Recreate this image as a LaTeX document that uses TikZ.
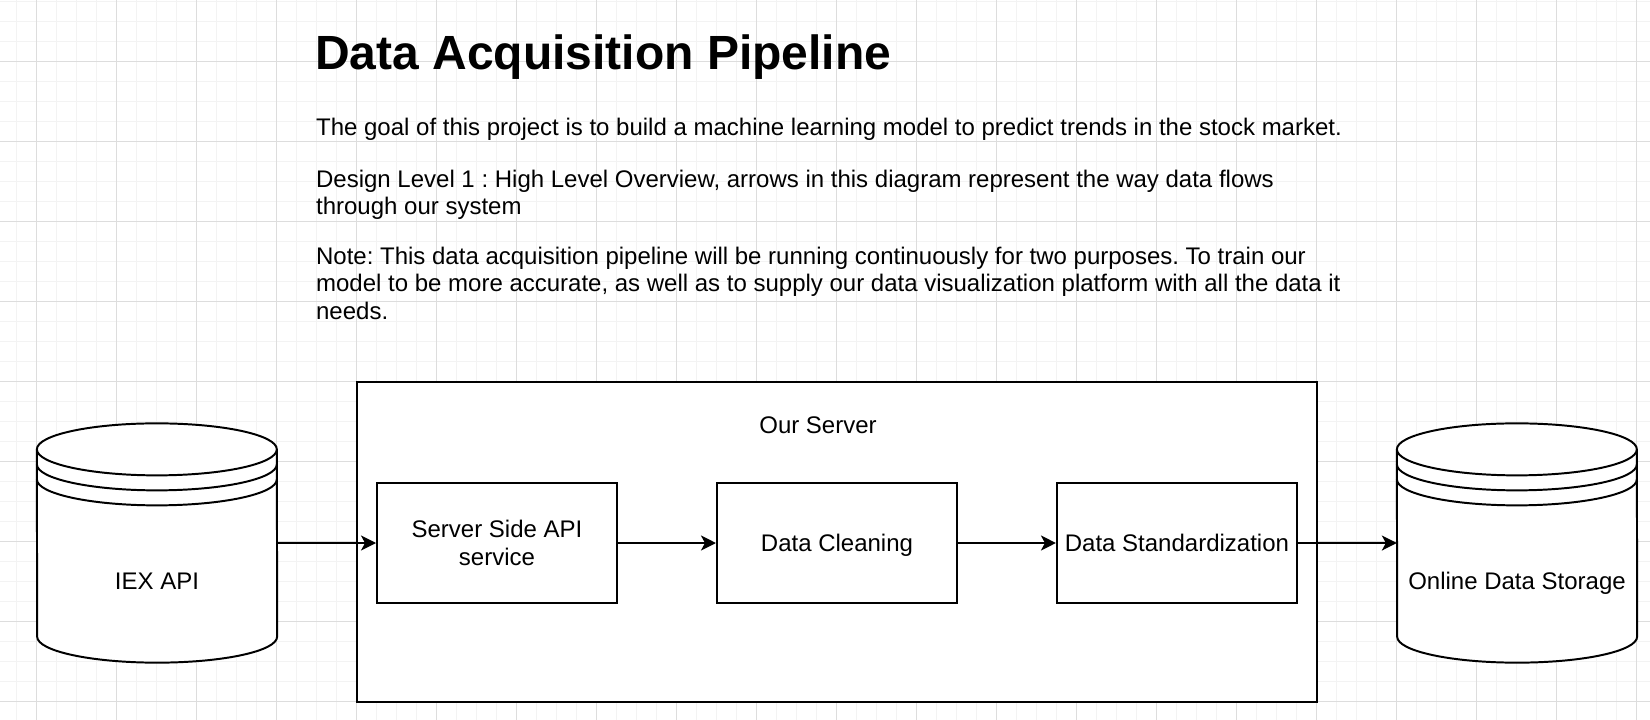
\documentclass[tikz,border=0pt]{standalone}
\usepackage{fontspec}
\setmainfont{Liberation Sans}
\usetikzlibrary{arrows.meta, positioning, calc}
\definecolor{gridminor}{HTML}{F3F3F3}
\definecolor{gridmajor}{HTML}{DDDDDD}
\frenchspacing

\newcommand{\bodysize}{\fontsize{34.14pt}{38.98pt}\selectfont}
\newcommand{\titlesize}{\fontsize{68.3pt}{80pt}\selectfont\bfseries}

% data store: cylinder with three rims, drawn on the box of node #1
\newcommand{\datastore}[1]{%
  \draw[outline, fill=white]
    ($(#1.north west)+(0,-1.3)$) arc[start angle=180, end angle=0, x radius=6, y radius=1.3]
    -- ($(#1.south east)+(0,1.3)$) arc[start angle=0, end angle=-180, x radius=6, y radius=1.3]
    -- cycle;
  \foreach \rimdrop in {1.3,2.05,2.8}
    \draw[outline] ($(#1.north west)+(0,-\rimdrop)$)
      arc[start angle=180, end angle=360, x radius=6, y radius=1.3];
}

\begin{document}
\begin{tikzpicture}[
  >={Stealth[length=0.75cm, width=0.75cm, inset=0.2cm]},
  outline/.style={line width=2.8pt, black},
  stage/.style={outline, draw, fill=white, minimum width=12cm, minimum height=6cm,
    align=center, font=\bodysize},
  oneline/.style={text height=0.86cm, text depth=0pt},
  store/.style={minimum width=12cm, minimum height=11.95cm, inner sep=0pt},
  caption/.style={font=\bodysize, anchor=base},
  para/.style={font=\bodysize, align=left, anchor=base west, inner sep=0pt},
  flow/.style={outline, ->},
]

% Background and grid (one cell = 1cm)
\useasboundingbox (0,0) rectangle (82.5,-36);
\fill[white] (0,0) rectangle (82.5,-36);
\begin{scope}
\clip (0,0) rectangle (82.5,-36);
\begin{scope}[xshift=0.835cm, yshift=-0.085cm]
  \draw[gridminor, line width=1.2pt, step=1] (-2,-38) grid (83,2);
\end{scope}
\begin{scope}[xshift=1.835cm, yshift=-3.085cm]
  \draw[gridmajor, line width=1.2pt, step=4] (-4,-36) grid (84,4);
\end{scope}
\end{scope}

% Title and notes (base = last line)
\node[font=\titlesize, anchor=base west, inner sep=0pt] (title) at (15.75,-3.5)
  {Data Acquisition Pipeline};
\node[para] (goal) at (15.8,-6.79)
  {The goal of this project is to build a machine learning model to predict trends in the stock market.};
\node[para] (design) at (15.8,-10.735)
  {Design Level 1 : High Level Overview, arrows in this diagram represent the way data flows\\
   through our system};
\node[para] (note) at (15.8,-15.95)
  {Note: This data acquisition pipeline will be running continuously for two purposes. To train our\\
   model to be more accurate, as well as to supply our data visualization platform with all the data it\\
   needs.};

% Server
\node[outline, draw, fill=white, minimum width=48cm, minimum height=16cm] (server) at (41.85,-27.1) {};
\node[caption] (serverlbl) at (40.9,-21.675) {Our Server};

\node[stage] (api) at (24.85,-27.15) {Server Side API\\service};
\node[stage, oneline, right=4.9cm of api] (clean) {Data Cleaning};
\node[stage, oneline, right=4.9cm of clean] (standard) {Data Standardization};

% Data stores
\node[store] (iex) at (7.85,-27.15) {};
\datastore{iex}
\node[caption] (iexlbl) at (7.85,-29.45) {IEX API};

\node[store] (storage) at (75.85,-27.15) {};
\datastore{storage}
\node[caption] (storagelbl) at (75.85,-29.45) {Online Data Storage};

% Data flow
\draw[flow] (iex) -- (api);
\draw[flow] (api) -- (clean);
\draw[flow] (clean) -- (standard);
\draw[flow] (standard) -- (storage);

\end{tikzpicture}
\end{document}
